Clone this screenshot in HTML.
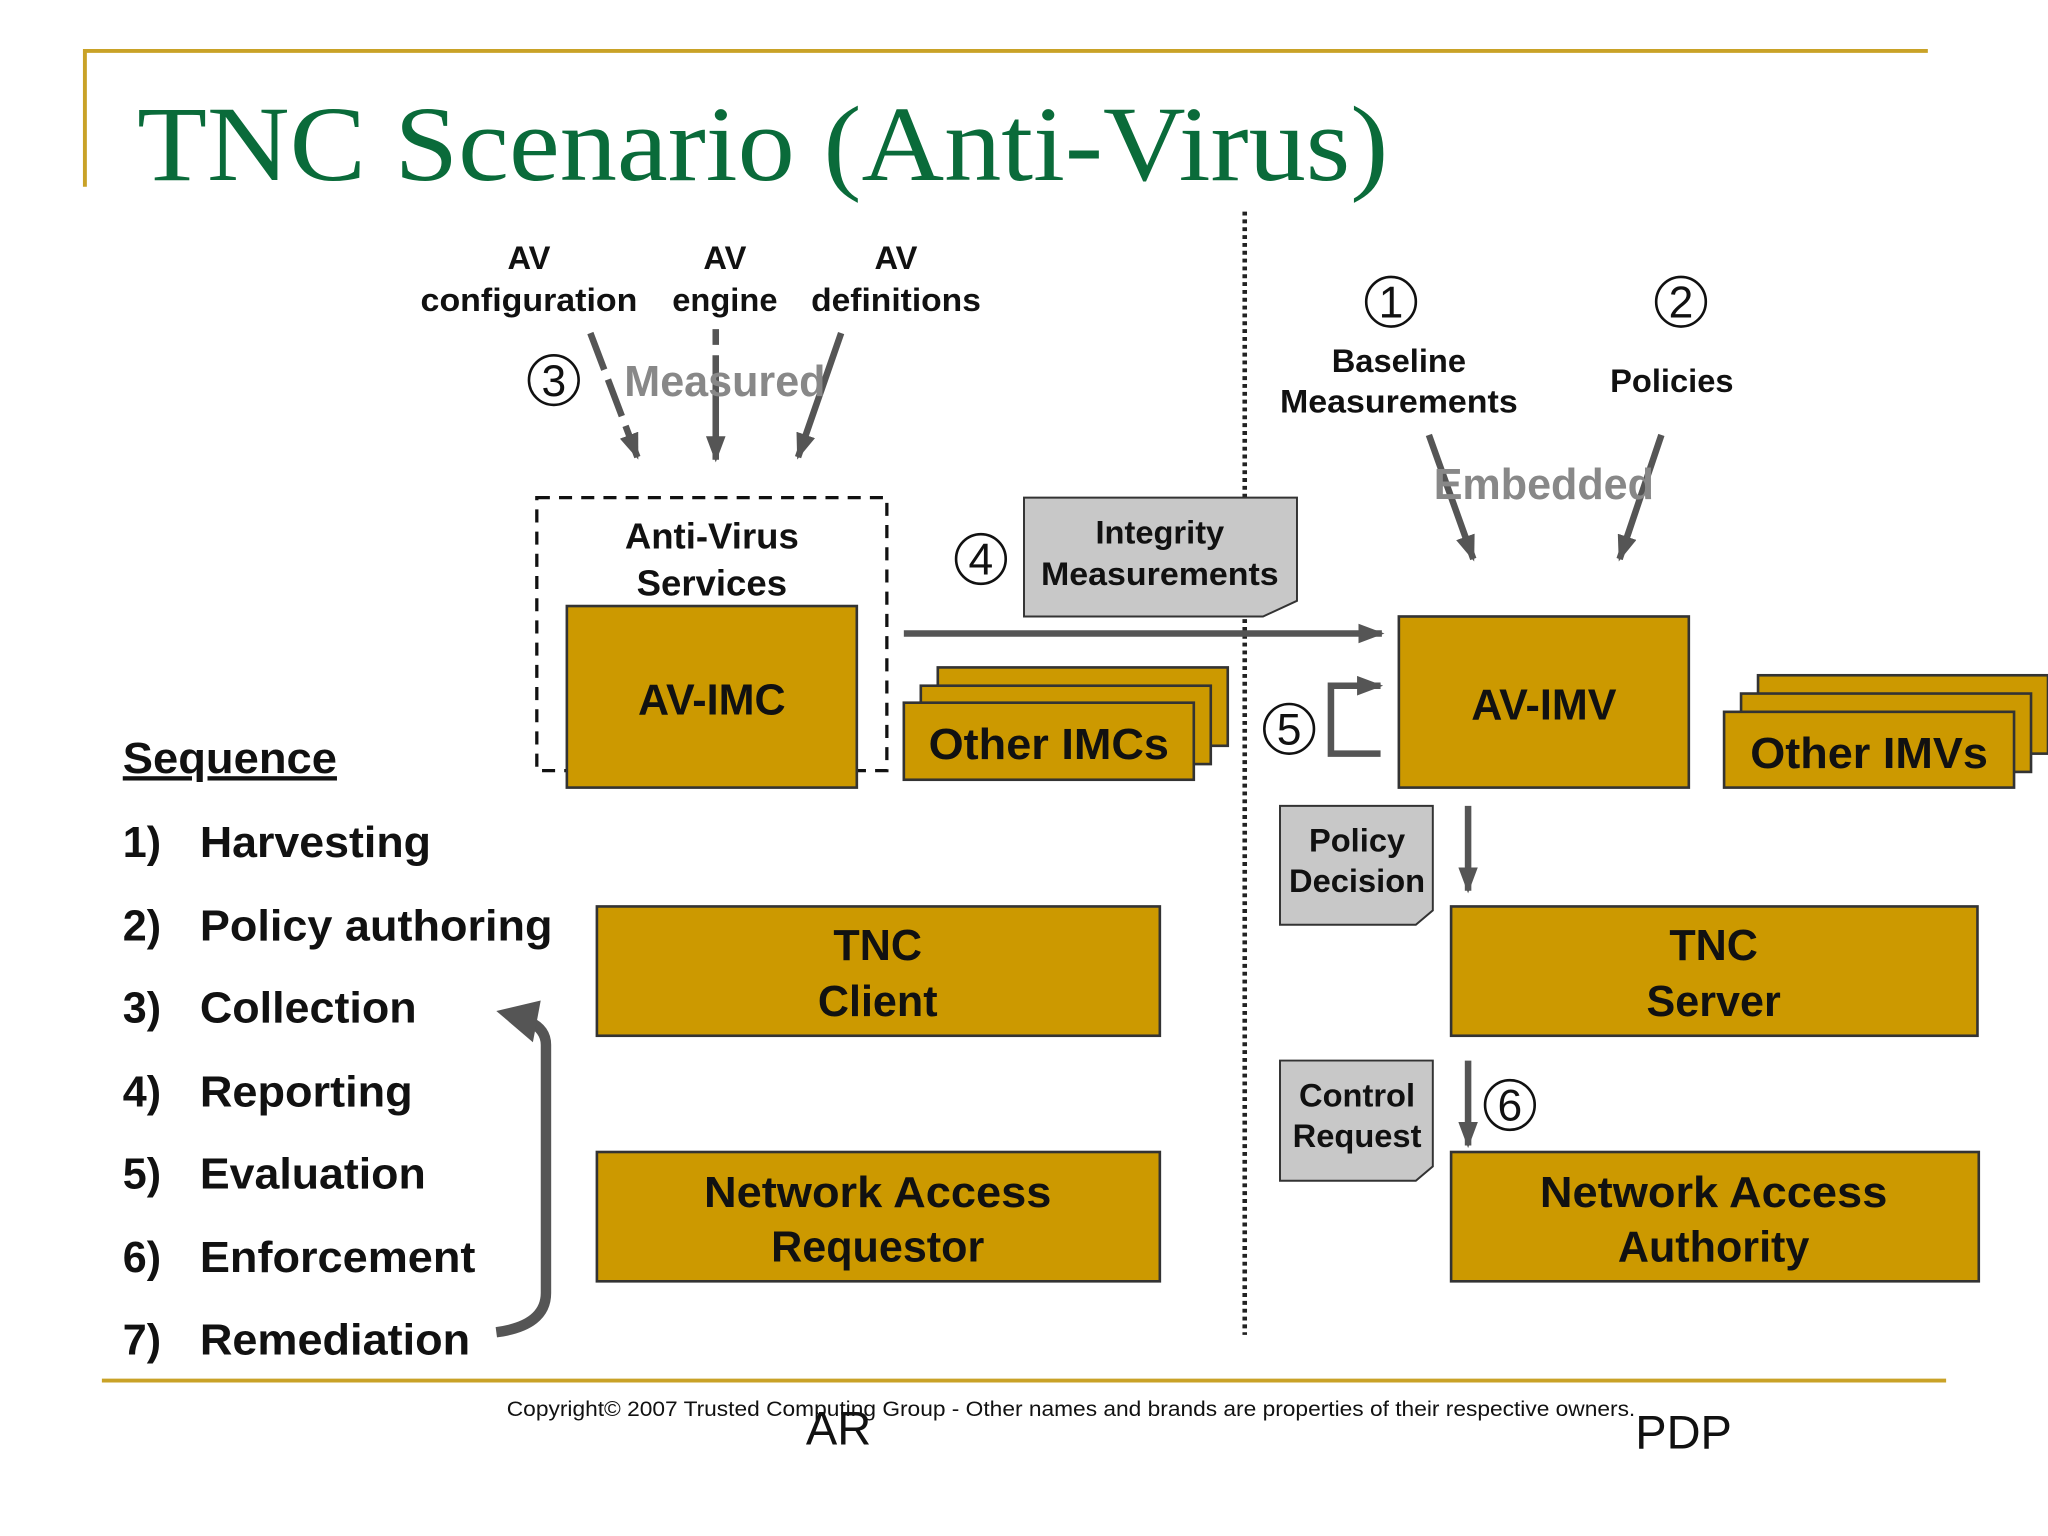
<!DOCTYPE html>
<html><head><meta charset="utf-8"><style>
html,body{margin:0;padding:0;background:#fff;}
svg{display:block;}
text{font-family:"Liberation Sans",sans-serif;font-weight:bold;fill:#111;}
</style></head><body>
<svg width="2048" height="1536" viewBox="0 0 1568 1176" xmlns="http://www.w3.org/2000/svg">
<defs>
<marker id="ah" markerWidth="4" markerHeight="3" refX="3.6" refY="1.5" orient="auto" markerUnits="strokeWidth"><path d="M0,0 L4,1.5 L0,3 z" fill="#555"/></marker>
</defs>
<rect width="1568" height="1176" fill="#fff"/>
<path d="M65,143 V39 H1476" fill="none" stroke="#c9a227" stroke-width="3"/>
<line x1="78" y1="1057" x2="1490" y2="1057" stroke="#c9a227" stroke-width="3"/>
<text x="105" y="138" textLength="958" lengthAdjust="spacingAndGlyphs" style="font-family:'Liberation Serif',serif;font-weight:normal;fill:#0a6b3a" font-size="82">TNC Scenario (Anti-Virus)</text>
<line x1="953" y1="162" x2="953" y2="1022" stroke="#222" stroke-width="3.5" stroke-dasharray="3,3"/>

<g font-size="25" text-anchor="middle">
<text x="405" y="206">AV</text><text x="405" y="238" textLength="166" lengthAdjust="spacingAndGlyphs">configuration</text>
<text x="555" y="206">AV</text><text x="555" y="238">engine</text>
<text x="686" y="206">AV</text><text x="686" y="238" textLength="130" lengthAdjust="spacingAndGlyphs">definitions</text>
<text x="1071" y="285">Baseline</text><text x="1071" y="316" textLength="182" lengthAdjust="spacingAndGlyphs">Measurements</text>
<text x="1280" y="300">Policies</text>
</g>
<g stroke="#555" stroke-width="5" fill="none">
<line x1="452" y1="255" x2="488" y2="350" marker-end="url(#ah)" stroke-dasharray="30,8"/>
<line x1="548" y1="252" x2="548" y2="352" marker-end="url(#ah)" stroke-dasharray="12,8,100"/>
<line x1="644" y1="255" x2="611" y2="350" marker-end="url(#ah)"/>
<line x1="1094" y1="333" x2="1128" y2="428" marker-end="url(#ah)"/>
<line x1="1272" y1="333" x2="1240" y2="428" marker-end="url(#ah)"/>
</g>
<g font-size="33" text-anchor="middle">
<text x="555" y="303" style="fill:#888">Measured</text>
<text x="1182" y="382" style="fill:#888">Embedded</text>
</g>
<g font-size="34" text-anchor="middle">
<circle cx="424" cy="291" r="19" fill="none" stroke="#111" stroke-width="2"/><text x="424" y="303" style="font-weight:normal">3</text>
<circle cx="751" cy="428" r="19" fill="none" stroke="#111" stroke-width="2"/><text x="751" y="440" style="font-weight:normal">4</text>
<circle cx="987" cy="558" r="19" fill="none" stroke="#111" stroke-width="2"/><text x="987" y="570" style="font-weight:normal">5</text>
<circle cx="1156" cy="846" r="19" fill="none" stroke="#111" stroke-width="2"/><text x="1156" y="858" style="font-weight:normal">6</text>
<circle cx="1065" cy="231" r="19" fill="none" stroke="#111" stroke-width="2"/><text x="1065" y="243" style="font-weight:normal">1</text>
<circle cx="1287" cy="231" r="19" fill="none" stroke="#111" stroke-width="2"/><text x="1287" y="243" style="font-weight:normal">2</text>
</g>

<rect x="411" y="381" width="268" height="209" fill="none" stroke="#111" stroke-width="2.5" stroke-dasharray="10,7"/>
<text x="545" y="420" font-size="28" text-anchor="middle">Anti-Virus</text>
<text x="545" y="456" font-size="28" text-anchor="middle">Services</text>
<g fill="#cc9900" stroke="#333" stroke-width="2">
<rect x="434" y="464" width="222" height="139"/>
<rect x="718" y="511" width="222" height="60"/>
<rect x="705" y="525" width="222" height="60"/>
<rect x="692" y="538" width="222" height="59"/>
<rect x="1071" y="472" width="222" height="131"/>
<rect x="1346" y="517" width="222" height="60"/>
<rect x="1333" y="531" width="222" height="60"/>
<rect x="1320" y="545" width="222" height="58"/>
<rect x="457" y="694" width="431" height="99"/>
<rect x="1111" y="694" width="403" height="99"/>
<rect x="457" y="882" width="431" height="99"/>
<rect x="1111" y="882" width="404" height="99"/>
</g>
<g text-anchor="middle" font-size="33">
<text x="545" y="547">AV-IMC</text>
<text x="803" y="581" textLength="184" lengthAdjust="spacingAndGlyphs">Other IMCs</text>
<text x="1182" y="551">AV-IMV</text>
<text x="1431" y="588" textLength="182" lengthAdjust="spacingAndGlyphs">Other IMVs</text>
<text x="672" y="735">TNC</text><text x="672" y="778">Client</text>
<text x="1312" y="735">TNC</text><text x="1312" y="778">Server</text>
<text x="672" y="924" textLength="266" lengthAdjust="spacingAndGlyphs">Network Access</text><text x="672" y="966">Requestor</text>
<text x="1312" y="924" textLength="266" lengthAdjust="spacingAndGlyphs">Network Access</text><text x="1312" y="966">Authority</text>
</g>

<g fill="#c8c8c8" stroke="#333" stroke-width="1.5">
<path d="M784,381 H993 V460 L967,472 H784 Z"/>
<path d="M980,617 H1097 V697 L1084,708 H980 Z"/>
<path d="M980,812 H1097 V893 L1084,904 H980 Z"/>
</g>
<g text-anchor="middle" font-size="25">
<text x="888" y="416">Integrity</text><text x="888" y="448" textLength="182" lengthAdjust="spacingAndGlyphs">Measurements</text>
<text x="1039" y="652">Policy</text><text x="1039" y="683">Decision</text>
<text x="1039" y="847">Control</text><text x="1039" y="878">Request</text>
</g>

<g stroke="#555" stroke-width="5" fill="none">
<line x1="692" y1="485" x2="1058" y2="485" marker-end="url(#ah)"/>
<path d="M1057,577 H1019 V525 H1057" marker-end="url(#ah)"/>
<line x1="1124" y1="617" x2="1124" y2="682" marker-end="url(#ah)"/>
<line x1="1124" y1="812" x2="1124" y2="877" marker-end="url(#ah)"/>
<path d="M380,1020 Q418,1015 418,990 V800 Q418,788 405,782" stroke-width="8"/>
</g>
<polygon points="380,774 414,766 408,798" fill="#555"/>

<text x="94" y="592" font-size="33" text-decoration="underline" textLength="164" lengthAdjust="spacingAndGlyphs">Sequence</text>
<g font-size="33">
<text x="94" y="656">1)</text><text x="153" y="656" textLength="177" lengthAdjust="spacingAndGlyphs">Harvesting</text>
<text x="94" y="720">2)</text><text x="153" y="720" textLength="270" lengthAdjust="spacingAndGlyphs">Policy authoring</text>
<text x="94" y="783">3)</text><text x="153" y="783" textLength="166" lengthAdjust="spacingAndGlyphs">Collection</text>
<text x="94" y="847">4)</text><text x="153" y="847" textLength="163" lengthAdjust="spacingAndGlyphs">Reporting</text>
<text x="94" y="910">5)</text><text x="153" y="910" textLength="173" lengthAdjust="spacingAndGlyphs">Evaluation</text>
<text x="94" y="974">6)</text><text x="153" y="974" textLength="211" lengthAdjust="spacingAndGlyphs">Enforcement</text>
<text x="94" y="1037">7)</text><text x="153" y="1037" textLength="207" lengthAdjust="spacingAndGlyphs">Remediation</text>
</g>

<text x="388" y="1084" font-size="16" textLength="864" lengthAdjust="spacingAndGlyphs" style="font-weight:normal">Copyright© 2007 Trusted Computing Group - Other names and brands are properties of their respective owners.</text>
<text x="617" y="1106" font-size="36" style="font-weight:normal">AR</text>
<text x="1252" y="1109" font-size="36" style="font-weight:normal">PDP</text>
</svg>
</body></html>
